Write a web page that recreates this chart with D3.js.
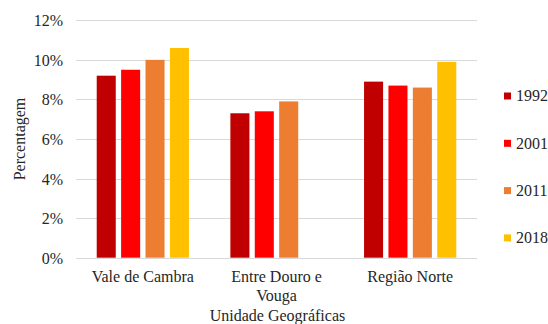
<!DOCTYPE html>
<html>
<head>
<meta charset="utf-8">
<script src="https://cdn.jsdelivr.net/npm/d3@7"></script>
<style>
  html, body { margin: 0; padding: 0; background: #fff; }
  svg { display: block; }
  text { font-family: "Liberation Serif", "Times New Roman", serif; fill: #262626; }
</style>
</head>
<body>
<svg id="chart" width="548" height="324"></svg>
<script>
// Share of population by geographic unit and census year
const categories = ["Vale de Cambra", "Entre Douro e Vouga", "Região Norte"];
const years = ["1992", "2001", "2011", "2018"];
const values1992 = [0.092, 0.073, 0.089];
const values2001 = [0.095, 0.074, 0.087];
const values2011 = [0.100, 0.079, 0.086];
const values2018 = [0.106, null, 0.099];
const yTicks = [0, 0.02, 0.04, 0.06, 0.08, 0.10, 0.12];
const colors = ["#C00000", "#FF0000", "#ED7D31", "#FFC000"];

const seriesValues = [values1992, values2001, values2011, values2018];

const svg = d3.select("#chart");
const plot = { left: 76, right: 477, top: 20.3, bottom: 257.7 };

const x0 = d3.scaleBand()
  .domain(categories)
  .range([plot.left, plot.right])
  .paddingInner(0.31)
  .paddingOuter(0.155);

const x1 = d3.scaleBand()
  .domain(years)
  .range([0, x0.bandwidth()])
  .paddingInner(0.22)
  .paddingOuter(0);

const y = d3.scaleLinear()
  .domain([0, 0.12])
  .range([plot.bottom, plot.top]);

const color = d3.scaleOrdinal().domain(years).range(colors);

// Gridlines
svg.append("g")
  .selectAll("line")
  .data(yTicks)
  .join("line")
  .attr("x1", plot.left)
  .attr("x2", plot.right)
  .attr("y1", d => Math.round(y(d)) + 0.5)
  .attr("y2", d => Math.round(y(d)) + 0.5)
  .attr("stroke", "#d9d9d9")
  .attr("stroke-width", 1);

// Y axis tick labels
const yAxis = d3.axisLeft(y)
  .tickValues(yTicks)
  .tickFormat(d3.format(".0%"))
  .tickSize(0)
  .tickPadding(0);

svg.append("g")
  .attr("transform", `translate(63,0)`)
  .call(yAxis)
  .call(g => g.select(".domain").remove())
  .call(g => g.selectAll("text")
    .attr("font-family", "Liberation Serif, Times New Roman, serif")
    .attr("font-size", 16)
    .attr("fill", "#262626")
    .attr("dy", "0.34em"));

// Bars
const groups = svg.append("g")
  .selectAll("g")
  .data(categories)
  .join("g")
  .attr("transform", d => `translate(${x0(d)},0)`);

groups.selectAll("rect")
  .data((c, i) => years.map((yr, j) => ({ year: yr, value: seriesValues[j][i] }))
    .filter(d => d.value !== null))
  .join("rect")
  .attr("x", d => x1(d.year))
  .attr("width", x1.bandwidth())
  .attr("y", d => y(d.value))
  .attr("height", d => y(0) - y(d.value))
  .attr("fill", d => color(d.year));

// Category labels (wrapped)
const xAxis = d3.axisBottom(x0).tickSize(0).tickPadding(0);
const xg = svg.append("g")
  .attr("transform", `translate(0,${plot.bottom})`)
  .call(xAxis)
  .call(g => g.select(".domain").remove());

xg.selectAll("text")
  .attr("font-family", "Liberation Serif, Times New Roman, serif")
  .attr("font-size", 16)
  .attr("fill", "#262626")
  .attr("y", 24)
  .attr("dy", 0)
  .each(function(d) {
    const t = d3.select(this);
    const words = d.split(" ");
    const maxW = 115;
    t.text(null);
    let line = [];
    let tspan = t.append("tspan").attr("x", 0).attr("dy", 0);
    let lineNo = 0;
    for (const w of words) {
      line.push(w);
      tspan.text(line.join(" "));
      if (tspan.node().getComputedTextLength() > maxW && line.length > 1) {
        line.pop();
        tspan.text(line.join(" "));
        line = [w];
        lineNo++;
        tspan = t.append("tspan").attr("x", 0).attr("dy", 19).text(w);
      }
    }
  });

// Axis titles
svg.append("text")
  .attr("x", (plot.left + plot.right) / 2 + 1)
  .attr("y", 321)
  .attr("text-anchor", "middle")
  .attr("font-size", 16)
  .text("Unidade Geográficas");

svg.append("text")
  .attr("transform", `translate(25,139) rotate(-90)`)
  .attr("text-anchor", "middle")
  .attr("font-size", 16)
  .text("Percentagem");

// Legend
const legend = svg.append("g")
  .selectAll("g")
  .data(years)
  .join("g")
  .attr("transform", (d, i) => `translate(504,${96 + i * 47.3})`);

legend.append("rect")
  .attr("x", 0)
  .attr("y", -3.5)
  .attr("width", 7)
  .attr("height", 7)
  .attr("fill", d => color(d));

legend.append("text")
  .attr("x", 12)
  .attr("y", 0)
  .attr("dy", "0.34em")
  .attr("font-size", 16)
  .text(d => d);
</script>
</body>
</html>
